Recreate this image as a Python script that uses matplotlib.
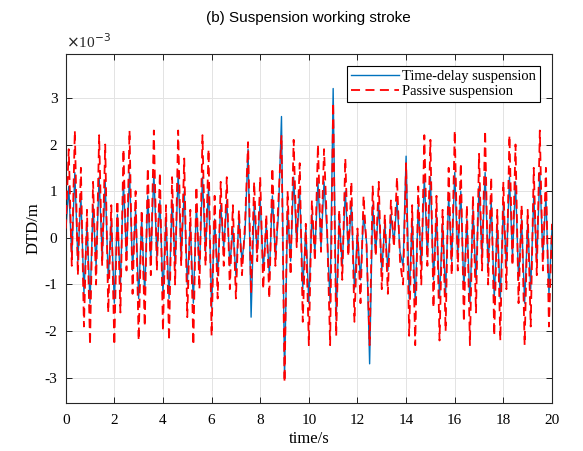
import numpy as np
import matplotlib
matplotlib.use("Agg")
import matplotlib.pyplot as plt
from matplotlib.ticker import FixedLocator

plt.rcParams['axes.unicode_minus'] = False

# Stroke signal (units of 1e-3 m), one value every 0.125 s; one row per second, 0 to 20 s
passive = [
    0.2, 1.9, -0.6, 2.3, -0.8, 1.5, -1.9, 0.6,
    -2.3, 1.2, -1.0, 2.2, -0.6, 2.0, -1.6, 0.7,
    -2.3, 0.8, -1.6, 1.9, -0.7, 2.3, -1.2, 1.0,
    -2.2, 0.6, -1.9, 1.5, -0.8, 2.3, -0.7, 1.4,
    -2.0, 0.7, -2.2, 1.3, -1.0, 2.3, -0.6, 1.7,
    -1.7, 0.6, -2.3, 1.1, -1.1, 2.2, -0.6, 1.9,
    -2.1, 0.9, -1.3, 1.2, -0.6, 1.3, -1.1, 0.7,
    -1.3, 0.6, -0.8, 0.3, 2.05, -1.2, 1.2, -0.5,
    1.3, -1.1, 0.5, -1.3, 1.5, -0.6, 0.8, 2.2,
    -3.1, 1.0, -0.8, 2.1, -0.2, 1.6, -1.8, 0.3,
    -2.3, 0.8, -0.5, 2.0, -0.3, 1.9, 0.2, -2.3,
    2.9, -2.1, 0.6, -0.9, 1.7, -0.4, 1.2, -1.8,
    0.2, -1.4, 0.9, -0.2, -2.3, 1.1, -0.4, 1.2,
    -1.1, 0.5, -1.2, 0.8, -0.2, 1.3, -0.5, -1.0,
    1.6, -2.1, 0.7, -2.3, 1.1, -1.0, 2.2, -0.6,
    2.1, -1.5, 0.9, -2.2, 0.6, -2.0, 1.5, -0.8,
    2.3, -0.7, 1.6, -1.8, 0.7, -2.3, 0.9, -1.6,
    1.8, -0.7, 2.3, -1.0, 1.3, -2.1, 0.6, -2.2,
    1.2, -1.1, 2.2, -0.6, 2.0, -1.4, 0.7, -2.3,
    0.6, -1.9, 1.5, -0.8, 2.3, -0.7, 1.5, -1.9,
    0.3,
]
time_delay = [
    0.1, 1.1, -0.4, 1.4, -0.5, 0.9, -1.2, 0.3,
    -1.4, 0.7, -0.6, 1.3, -0.4, 1.2, -0.9, 0.4,
    -1.4, 0.5, -1.0, 1.2, -0.4, 1.4, -0.7, 0.6,
    -1.3, 0.4, -1.2, 0.9, -0.5, 1.4, -0.4, 0.8,
    -1.2, 0.4, -1.3, 0.8, -0.6, 1.4, -0.4, 1.0,
    -1.0, 0.3, -1.4, 0.7, -0.7, 1.3, -0.3, 1.1,
    -1.5, 0.4, -0.8, 0.7, -0.2, 0.8, -0.6, 0.2,
    -0.8, 0.4, -0.5, 0.1, 1.9, -1.7, 0.7, -0.3,
    0.8, -0.7, 0.3, -0.8, 0.9, -0.4, 0.5, 2.6,
    -3.0, 0.6, -0.5, 1.3, -0.1, 1.0, -1.1, 0.2,
    -1.4, 0.5, -0.3, 1.2, -0.2, 1.2, 0.1, -1.4,
    3.2, -1.75, 0.4, -0.6, 1.0, -0.3, 0.7, -1.1,
    0.1, -0.9, 0.5, -0.1, -2.7, 0.7, -0.3, 0.7,
    -0.7, 0.3, -0.7, 0.5, -0.1, 0.8, -0.3, -0.6,
    1.75, -1.3, 0.4, -1.4, 0.7, -0.6, 1.3, -0.4,
    1.3, -0.9, 0.5, -1.3, 0.3, -1.2, 0.9, -0.5,
    1.4, -0.4, 1.0, -1.1, 0.4, -1.4, 0.6, -0.9,
    1.1, -0.4, 1.4, -0.6, 0.8, -1.3, 0.3, -1.3,
    0.7, -0.6, 1.3, -0.4, 1.2, -0.9, 0.4, -1.4,
    0.3, -1.1, 0.9, -0.5, 1.4, -0.4, 0.9, -1.2,
    0.2,
]
time_step = 0.125
x_ticks = [0, 2, 4, 6, 8, 10, 12, 14, 16, 18, 20]
y_ticks = [-3, -2, -1, 0, 1, 2, 3]

t_p = np.arange(len(passive)) * time_step
t_d = np.arange(len(time_delay)) * time_step
scale = 1e-3

serif = ['Liberation Serif', 'DejaVu Serif']

fig = plt.figure(figsize=(5.83, 4.51), dpi=100)
ax = fig.add_axes([0.1127, 0.1064, 0.8341, 0.7739])

ax.plot(t_d, np.array(time_delay) * scale, color='#0072BD', lw=1.0,
        label='Time-delay suspension', zorder=2)
ax.plot(t_p, np.array(passive) * scale, color='#FF0000', lw=1.3,
        linestyle=(0, (5, 3)), label='Passive suspension', zorder=3)

ax.set_xlim(0, 20)
ax.set_ylim(-3.54e-3, 3.94e-3)
ax.xaxis.set_major_locator(FixedLocator(x_ticks))
ax.yaxis.set_major_locator(FixedLocator([v * scale for v in y_ticks]))
ax.set_xticklabels([str(v) for v in x_ticks], fontfamily=serif, fontsize=11)
ax.set_yticklabels([str(v) for v in y_ticks], fontfamily=serif, fontsize=11)
ax.tick_params(direction='in', top=True, right=True, length=4, width=0.6)
ax.tick_params(axis='x', pad=8)
ax.tick_params(axis='y', pad=6)
ax.grid(True, color='#e3e3e3', lw=0.7)
ax.set_axisbelow(True)
for s in ax.spines.values():
    s.set_linewidth(0.8)
    s.set_color('#262626')

ax.text(0.0, 1.008, r'$\times$10$^{-3}$', transform=ax.transAxes, ha='left', va='bottom',
        fontfamily=serif, fontsize=11, color='#262626')

ax.set_xlabel('time/s', fontfamily=serif, fontsize=12, labelpad=3)
ax.set_ylabel('DTD/m', fontfamily=serif, fontsize=12, labelpad=2)
ax.set_title('(b) Suspension working stroke', fontfamily='Liberation Sans', fontsize=11, pad=23)

leg = ax.legend(loc='upper right', prop={'family': serif, 'size': 10.5},
                fancybox=False, edgecolor='black', framealpha=1,
                handlelength=3.3, borderaxespad=0.8, borderpad=0.3,
                labelspacing=0.1, handletextpad=0.2)
leg.get_frame().set_linewidth(0.8)

fig.savefig('out.png', dpi=100)
